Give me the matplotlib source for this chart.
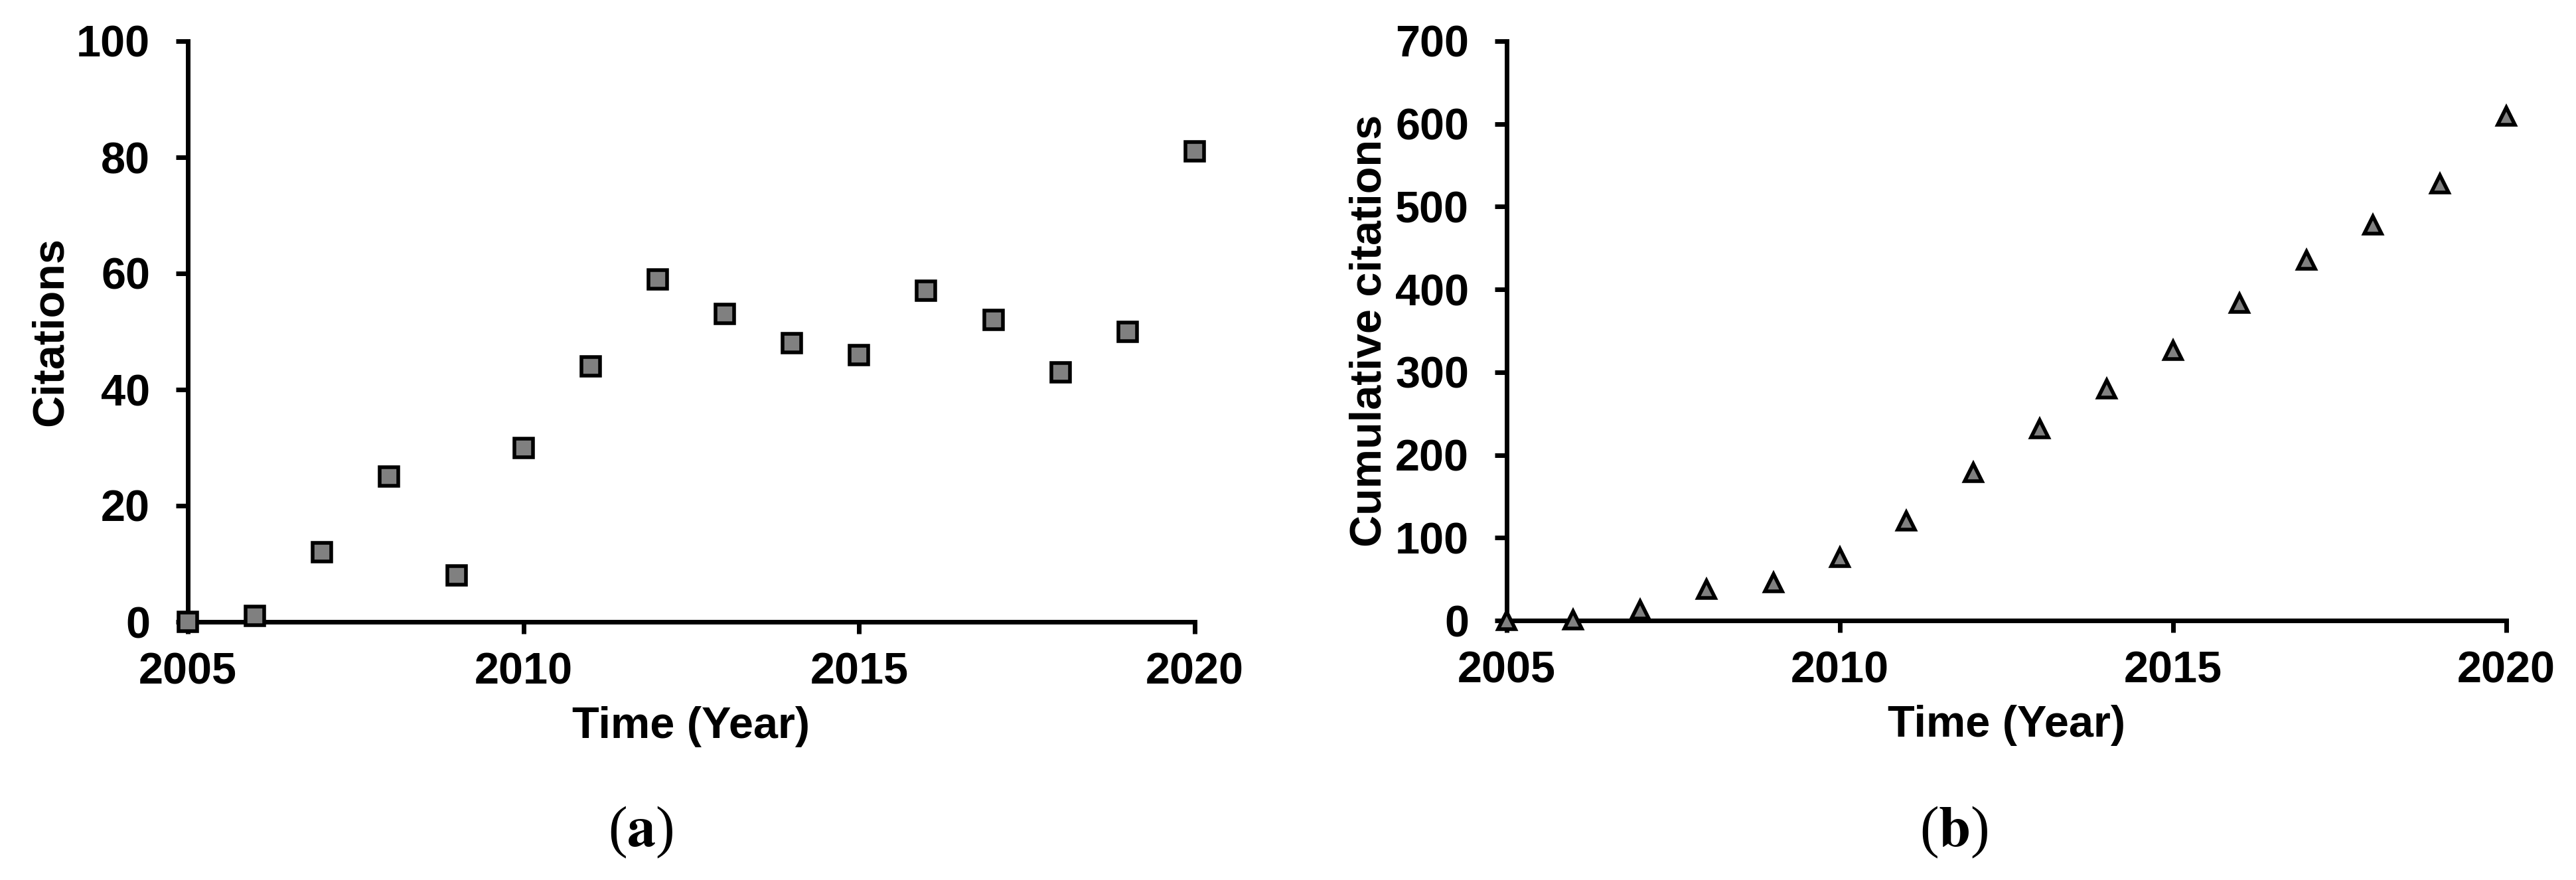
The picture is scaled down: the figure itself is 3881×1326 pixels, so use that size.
import numpy as np
import matplotlib
matplotlib.use("Agg")
import matplotlib.pyplot as plt

plt.rcParams['font.family'] = ['Liberation Sans', 'DejaVu Sans']
plt.rcParams['font.weight'] = 'bold'
plt.rcParams['mathtext.fontset'] = 'stix'

# data
years = [2005, 2006, 2007, 2008, 2009, 2010, 2011, 2012,
         2013, 2014, 2015, 2016, 2017, 2018, 2019, 2020]
citations = [0, 1, 12, 25, 8, 30, 44, 59, 53, 48, 46, 57, 52, 43, 50, 81]
cumulative = [0, 1, 13, 38, 46, 76, 120, 179, 232, 280, 326, 383, 435, 478, 528, 609]

x_ticks = [2005, 2010, 2015, 2020]
y_ticks_a = [0, 20, 40, 60, 80, 100]
y_ticks_b = [0, 100, 200, 300, 400, 500, 600, 700]

W, H = 3881, 1326
fig = plt.figure(figsize=(W / 100, H / 100), dpi=100)
fig.patch.set_facecolor('white')


def px_axes(x0, x1, ytop, ybot):
    return fig.add_axes([x0 / W, 1 - ybot / H, (x1 - x0) / W, (ybot - ytop) / H])


def style(ax, ylabel, yticks):
    for s in ['top', 'right']:
        ax.spines[s].set_visible(False)
    for s in ['left', 'bottom']:
        ax.spines[s].set_linewidth(5)
        ax.spines[s].set_capstyle('projecting')
    ax.set_xlim(2005, 2020)
    ax.set_ylim(yticks[0], yticks[-1])
    ax.set_xticks(x_ticks)
    ax.set_yticks(yticks)
    ax.tick_params(axis='both', direction='out', length=13, width=5, labelsize=48)
    ax.tick_params(axis='x', pad=20)
    ax.tick_params(axis='y', pad=28)
    ax.set_xlabel('Time (Year)', fontsize=48, fontweight='bold', labelpad=14)
    ax.set_ylabel(ylabel, fontsize=48, fontweight='bold', labelpad=5)


ax1 = px_axes(283, 1800, 62, 937)
style(ax1, 'Citations', y_ticks_a)
ax1.plot(years, citations, linestyle='none', marker='s', markersize=20,
         markerfacecolor='#808080', markeredgecolor='black', markeredgewidth=4,
         clip_on=False, zorder=5)

ax2 = px_axes(2270, 3776, 62, 935)
style(ax2, 'Cumulative citations', y_ticks_b)
ax2.plot(years, cumulative, linestyle='none', marker='^', markersize=19,
         markerfacecolor='#808080', markeredgecolor='black', markeredgewidth=4,
         clip_on=False, zorder=5)

fig.text(965 / W, 1 - 1254 / H, r'($\mathbf{a}$)', family='Liberation Serif',
         fontweight='normal', fontsize=62, ha='center', va='center')
fig.text(2944 / W, 1 - 1254 / H, r'($\mathbf{b}$)', family='Liberation Serif',
         fontweight='normal', fontsize=62, ha='center', va='center')

fig.savefig('out.png', dpi=100, facecolor='white')
